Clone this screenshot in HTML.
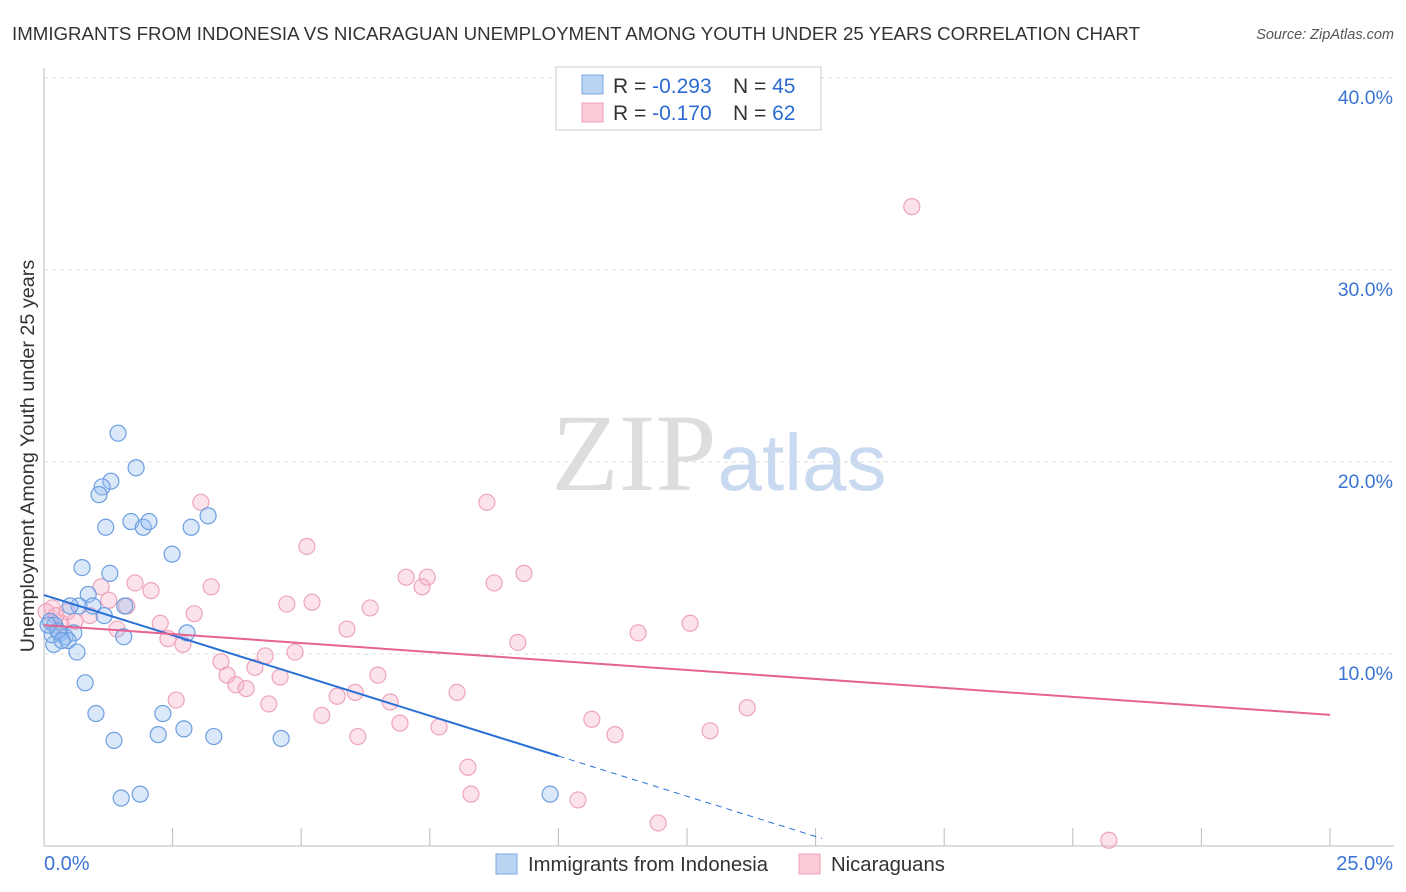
<!DOCTYPE html>
<html><head><meta charset="utf-8"><style>
body{margin:0;background:#fff;font-family:"Liberation Sans",sans-serif;}
svg{display:block}
</style></head><body>
<svg id="chart" width="1406" height="892">
<text x="12" y="40" font-size="18.7" fill="#333">IMMIGRANTS FROM INDONESIA VS NICARAGUAN UNEMPLOYMENT AMONG YOUTH UNDER 25 YEARS CORRELATION CHART</text>
<text x="1394" y="39" font-size="14.5" fill="#555" font-style="italic" text-anchor="end">Source: ZipAtlas.com</text>
<text x="634" y="490" font-size="110" fill="#ddd" font-family="Liberation Serif,serif" text-anchor="middle">ZIP</text>
<text x="802" y="490" font-size="80" fill="#c9daf0" text-anchor="middle">atlas</text>
<text transform="translate(34,456) rotate(-90)" font-size="19.8" fill="#333" text-anchor="middle">Unemployment Among Youth under 25 years</text>
<g id="grid"></g><g id="marks"></g>
<g>
<rect x="556" y="67" width="265" height="63" fill="#fff" stroke="#ccc"/>
<rect x="582" y="75" width="21" height="19" fill="#b9d3f3" stroke="#7aa8e0"/>
<rect x="582" y="103" width="21" height="19" fill="#fbcbd8" stroke="#eda0b6"/>
<text x="613" y="93" font-size="21" fill="#333">R = <tspan fill="#2e6bd0">-0.293</tspan><tspan x="733">N = </tspan><tspan fill="#2e6bd0">45</tspan></text>
<text x="613" y="120" font-size="21" fill="#333">R = <tspan fill="#2e6bd0">-0.170</tspan><tspan x="733">N = </tspan><tspan fill="#2e6bd0">62</tspan></text>
</g>
<g>
<rect x="496" y="854" width="21" height="20" fill="#b9d3f3" stroke="#7aa8e0"/>
<text x="528" y="871" font-size="20.3" fill="#333">Immigrants from Indonesia</text>
<rect x="799" y="854" width="21" height="20" fill="#fbcbd8" stroke="#eda0b6"/>
<text x="831" y="871" font-size="20.3" fill="#333">Nicaraguans</text>
</g>
</svg>
<script>
const yTicks=[10,20,30,40];
const xTickLabels=["0.0%","25.0%"];
const blueX=[1.44,1.79,1.3,1.13,1.07,1.2,1.69,1.93,2.04,2.86,3.19,2.49,0.74,1.28,0.86,0.68,0.95,1.57,1.17,0.12,0.21,0.31,0.41,0.58,0.19,0.47,0.64,1.55,2.78,0.8,1.01,2.31,1.36,2.22,2.72,3.3,4.61,1.5,1.87,9.84,0.16,0.27,0.35,0.08,0.51];
const blueY=[21.5,19.7,19.0,18.7,18.3,16.6,16.9,16.6,16.9,16.6,17.2,15.2,14.5,14.2,13.1,12.5,12.5,12.5,12.0,11.7,11.5,11.1,10.9,11.1,10.5,10.7,10.1,10.9,11.1,8.5,6.9,6.9,5.5,5.8,6.1,5.7,5.6,2.5,2.7,2.7,11.0,11.2,10.7,11.5,12.5];
const pinkX=[16.87,8.61,3.05,5.11,9.33,7.04,7.45,7.35,8.75,1.11,1.77,2.08,3.25,1.61,1.26,4.72,5.21,6.34,0.16,0.45,0.89,0.33,1.42,2.26,2.92,5.89,2.41,2.7,9.21,11.55,12.56,3.44,4.3,4.88,4.1,3.56,4.59,3.73,3.93,6.49,2.57,4.37,5.7,6.05,6.73,8.03,5.4,6.92,7.68,10.65,13.67,12.95,11.1,6.1,8.24,8.3,10.38,11.94,20.7,0.23,0.6,0.04];
const pinkY=[33.3,17.9,17.9,15.6,14.2,14.0,14.0,13.5,13.7,13.5,13.7,13.3,13.5,12.5,12.8,12.6,12.7,12.4,12.4,12.2,12.0,11.6,11.3,11.6,12.1,11.3,10.8,10.5,10.6,11.1,11.6,9.6,9.9,10.1,9.3,8.9,8.8,8.4,8.2,8.9,7.6,7.4,7.8,8.0,7.5,8.0,6.8,6.4,6.2,6.6,7.2,6.0,5.8,5.7,4.1,2.7,2.4,1.2,0.3,12.0,11.7,12.2];
const sx=v=>44+v*51.44, sy=v=>846-v*19.2;
const NS="http://www.w3.org/2000/svg";
const grid=document.getElementById('grid'), marks=document.getElementById('marks');
function mk(tag,attrs,parent){const e=document.createElementNS(NS,tag);for(const k in attrs)e.setAttribute(k,attrs[k]);parent.appendChild(e);return e;}
let ax=mk('line',{x1:44,y1:68,x2:44,y2:846,stroke:'#bbb'},grid);


let bx=mk('line',{x1:44,y1:846,x2:1394,y2:846,stroke:'#bbb'},grid);


yTicks.forEach(t=>{
 let g=mk('line',{x1:44,y1:sy(t),x2:1394,y2:sy(t),stroke:'#ddd','stroke-dasharray':'4,4'},grid);
 
 
 let l=mk('text',{x:1393,y:sy(t)+26,'font-size':19.5,fill:'#3b74d4','text-anchor':'end'},grid);
 l.textContent=t.toFixed(1)+'%';
 
 
});
for(let i=1;i<=10;i++){
 let t=mk('line',{x1:sx(i*2.5),y1:828,x2:sx(i*2.5),y2:846,stroke:'#bbb'},grid);
 
 
}
let xl0=mk('text',{x:44,y:870,'font-size':20,fill:'#3b74d4'},grid);xl0.textContent=xTickLabels[0];


let xl1=mk('text',{x:1393,y:870,'font-size':20,fill:'#3b74d4','text-anchor':'end'},grid);xl1.textContent=xTickLabels[1];


pinkX.forEach((x,i)=>{let c=mk('circle',{cx:sx(x),cy:sy(pinkY[i]),r:8,fill:'rgba(247,176,198,0.35)',stroke:'#eea3bb','stroke-width':1.2},marks);
 
 });
blueX.forEach((x,i)=>{let c=mk('circle',{cx:sx(x),cy:sy(blueY[i]),r:8,fill:'rgba(150,190,240,0.35)',stroke:'#6d9ee0','stroke-width':1.2},marks);
 
 });
function fit(X,Y){const n=X.length,mx=X.reduce((a,b)=>a+b)/n,my=Y.reduce((a,b)=>a+b)/n;let sxy=0,sxx=0;X.forEach((x,i)=>{sxy+=(x-mx)*(Y[i]-my);sxx+=(x-mx)**2});const b=sxy/sxx;return [my-b*mx,b];}
const [ba,bb]=fit(blueX,blueY),[pa,pb]=fit(pinkX,pinkY);
let bl=mk('line',{x1:sx(0),y1:sy(ba),x2:sx(10),y2:sy(ba+bb*10),stroke:'#2a6fd6','stroke-width':2},marks);


const xe=Math.min(25,-ba/bb)*0.97;
let bd=mk('line',{x1:sx(10),y1:sy(ba+bb*10),x2:sx(xe),y2:sy(ba+bb*xe),stroke:'#2a6fd6','stroke-width':1,'stroke-dasharray':'6,5'},marks);


let pl=mk('line',{x1:sx(0),y1:sy(pa),x2:sx(25),y2:sy(pa+pb*25),stroke:'#e5638f','stroke-width':2},marks);


</script>
</body></html>
